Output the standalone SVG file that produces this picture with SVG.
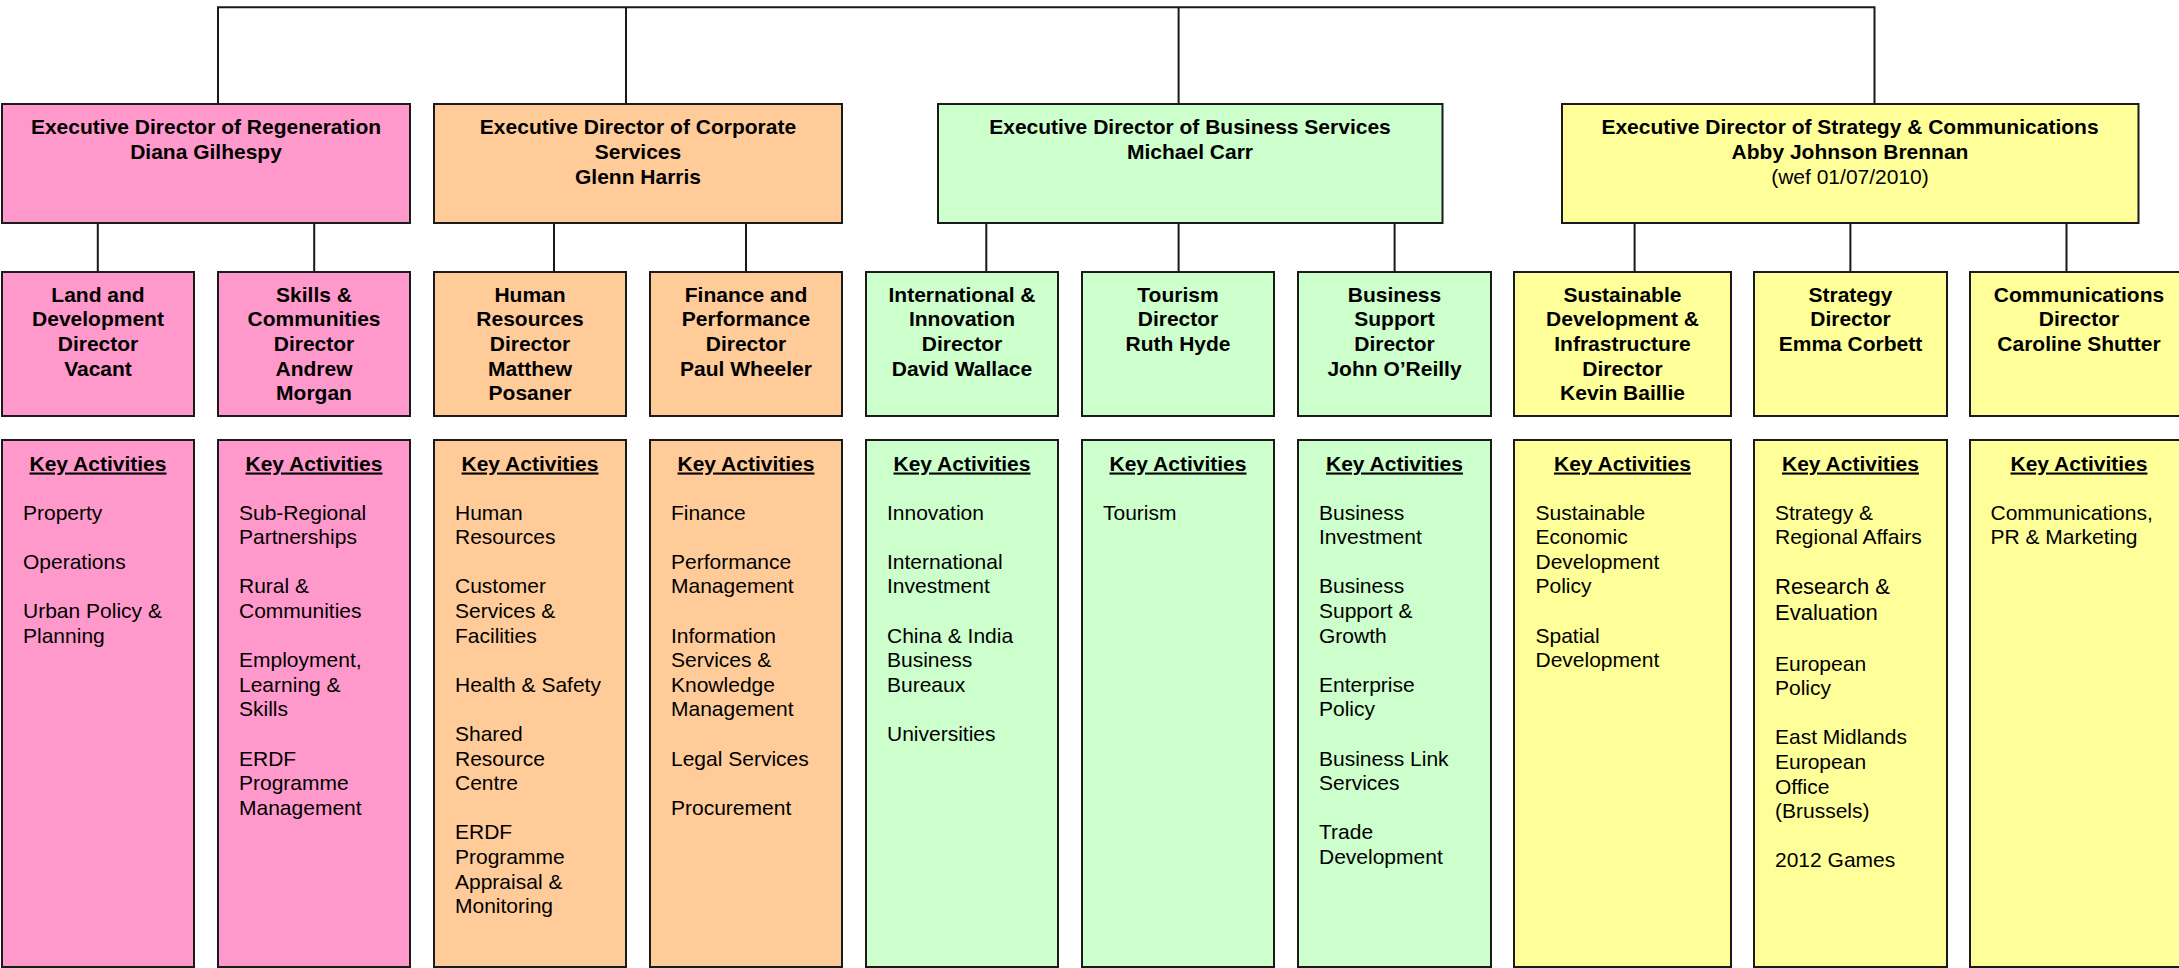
<svg xmlns="http://www.w3.org/2000/svg" width="2179" height="968" viewBox="0 0 2179 968">
<style>
.box{stroke:#1a1a1a;stroke-width:2}
.pink{fill:#FF99CC}
.orange{fill:#FFCC99}
.green{fill:#CCFFCC}
.yellow{fill:#FFFF99}
.conn{fill:none;stroke:#1a1a1a;stroke-width:2}
text{font-family:"Liberation Sans",Arial,sans-serif;font-size:21px;fill:#000}
.b{font-weight:bold;text-anchor:middle}
.r{text-anchor:middle}
.ka{font-weight:bold;text-anchor:middle;text-decoration:underline}
.act{text-anchor:start}
</style>
<rect width="2179" height="968" fill="#ffffff"/>
<g id="connectors">
<path class="conn" d="M218,104 V7.3 H1874.5 V104"/>
<path class="conn" d="M626,104 V7.3"/>
<path class="conn" d="M1178.6,104 V7.3"/>
<path class="conn" d="M97.8,223 V272 M314.2,223 V272"/>
<path class="conn" d="M554,223 V272 M746,223 V272"/>
<path class="conn" d="M986.3,223 V272 M1178.6,223 V272 M1394.6,223 V272"/>
<path class="conn" d="M1634.6,223 V272 M1850.4,223 V272 M2066.5,223 V272"/>
</g>
<g id="exec-regeneration">
<rect class="box pink" x="2" y="104" width="408" height="119"/>
<text class="b" x="206" y="134.3">Executive Director of Regeneration</text>
<text class="b" x="206" y="158.9">Diana Gilhespy</text>
</g>
<g id="exec-corporate">
<rect class="box orange" x="434" y="104" width="408" height="119"/>
<text class="b" x="638" y="134.3">Executive Director of Corporate</text>
<text class="b" x="638" y="158.9">Services</text>
<text class="b" x="638" y="183.5">Glenn Harris</text>
</g>
<g id="exec-business">
<rect class="box green" x="938" y="104" width="504.5" height="119"/>
<text class="b" x="1190" y="134.3">Executive Director of Business Services</text>
<text class="b" x="1190" y="158.9">Michael Carr</text>
</g>
<g id="exec-strategy">
<rect class="box yellow" x="1562" y="104" width="576.5" height="119"/>
<text class="b" x="1850" y="134.3">Executive Director of Strategy &amp; Communications</text>
<text class="b" x="1850" y="158.9">Abby Johnson Brennan</text>
<text class="r" x="1850" y="183.5">(wef 01/07/2010)</text>
</g>
<g id="dir-land">
<rect class="box pink" x="2" y="272" width="192" height="144"/>
<text class="b" x="98" y="301.7">Land and</text>
<text class="b" x="98" y="326.3">Development</text>
<text class="b" x="98" y="350.9">Director</text>
<text class="b" x="98" y="375.5">Vacant</text>
</g>
<g id="dir-skills">
<rect class="box pink" x="218" y="272" width="192" height="144"/>
<text class="b" x="314" y="301.7">Skills &amp;</text>
<text class="b" x="314" y="326.3">Communities</text>
<text class="b" x="314" y="350.9">Director</text>
<text class="b" x="314" y="375.5">Andrew</text>
<text class="b" x="314" y="400.1">Morgan</text>
</g>
<g id="dir-hr">
<rect class="box orange" x="434" y="272" width="192" height="144"/>
<text class="b" x="530" y="301.7">Human</text>
<text class="b" x="530" y="326.3">Resources</text>
<text class="b" x="530" y="350.9">Director</text>
<text class="b" x="530" y="375.5">Matthew</text>
<text class="b" x="530" y="400.1">Posaner</text>
</g>
<g id="dir-finance">
<rect class="box orange" x="650" y="272" width="192" height="144"/>
<text class="b" x="746" y="301.7">Finance and</text>
<text class="b" x="746" y="326.3">Performance</text>
<text class="b" x="746" y="350.9">Director</text>
<text class="b" x="746" y="375.5">Paul Wheeler</text>
</g>
<g id="dir-international">
<rect class="box green" x="866" y="272" width="192" height="144"/>
<text class="b" x="962" y="301.7">International &amp;</text>
<text class="b" x="962" y="326.3">Innovation</text>
<text class="b" x="962" y="350.9">Director</text>
<text class="b" x="962" y="375.5">David Wallace</text>
</g>
<g id="dir-tourism">
<rect class="box green" x="1082" y="272" width="192" height="144"/>
<text class="b" x="1178" y="301.7">Tourism</text>
<text class="b" x="1178" y="326.3">Director</text>
<text class="b" x="1178" y="350.9">Ruth Hyde</text>
</g>
<g id="dir-business-support">
<rect class="box green" x="1298" y="272" width="193" height="144"/>
<text class="b" x="1394.5" y="301.7">Business</text>
<text class="b" x="1394.5" y="326.3">Support</text>
<text class="b" x="1394.5" y="350.9">Director</text>
<text class="b" x="1394.5" y="375.5">John O’Reilly</text>
</g>
<g id="dir-sustainable">
<rect class="box yellow" x="1514" y="272" width="217" height="144"/>
<text class="b" x="1622.5" y="301.7">Sustainable</text>
<text class="b" x="1622.5" y="326.3">Development &amp;</text>
<text class="b" x="1622.5" y="350.9">Infrastructure</text>
<text class="b" x="1622.5" y="375.5">Director</text>
<text class="b" x="1622.5" y="400.1">Kevin Baillie</text>
</g>
<g id="dir-strategy">
<rect class="box yellow" x="1754" y="272" width="193" height="144"/>
<text class="b" x="1850.5" y="301.7">Strategy</text>
<text class="b" x="1850.5" y="326.3">Director</text>
<text class="b" x="1850.5" y="350.9">Emma Corbett</text>
</g>
<g id="dir-communications">
<rect class="box yellow" x="1970" y="272" width="218" height="144"/>
<text class="b" x="2079" y="301.7">Communications</text>
<text class="b" x="2079" y="326.3">Director</text>
<text class="b" x="2079" y="350.9">Caroline Shutter</text>
</g>
<g id="act-land">
<rect class="box pink" x="2" y="440" width="192" height="527"/>
<text class="ka" x="98" y="470.5">Key Activities</text>
<text class="act" x="23" y="519.5">Property</text>
<text class="act" x="23" y="568.7">Operations</text>
<text class="act" x="23" y="617.9">Urban Policy &amp;</text>
<text class="act" x="23" y="642.5">Planning</text>
</g>
<g id="act-skills">
<rect class="box pink" x="218" y="440" width="192" height="527"/>
<text class="ka" x="314" y="470.5">Key Activities</text>
<text class="act" x="239" y="519.5">Sub-Regional</text>
<text class="act" x="239" y="544.1">Partnerships</text>
<text class="act" x="239" y="593.3">Rural &amp;</text>
<text class="act" x="239" y="617.9">Communities</text>
<text class="act" x="239" y="667.1">Employment,</text>
<text class="act" x="239" y="691.7">Learning &amp;</text>
<text class="act" x="239" y="716.3">Skills</text>
<text class="act" x="239" y="765.5">ERDF</text>
<text class="act" x="239" y="790.1">Programme</text>
<text class="act" x="239" y="814.7">Management</text>
</g>
<g id="act-hr">
<rect class="box orange" x="434" y="440" width="192" height="527"/>
<text class="ka" x="530" y="470.5">Key Activities</text>
<text class="act" x="455" y="519.5">Human</text>
<text class="act" x="455" y="544.1">Resources</text>
<text class="act" x="455" y="593.3">Customer</text>
<text class="act" x="455" y="617.9">Services &amp;</text>
<text class="act" x="455" y="642.5">Facilities</text>
<text class="act" x="455" y="691.7">Health &amp; Safety</text>
<text class="act" x="455" y="740.9">Shared</text>
<text class="act" x="455" y="765.5">Resource</text>
<text class="act" x="455" y="790.1">Centre</text>
<text class="act" x="455" y="839.3">ERDF</text>
<text class="act" x="455" y="863.9">Programme</text>
<text class="act" x="455" y="888.5">Appraisal &amp;</text>
<text class="act" x="455" y="913.1">Monitoring</text>
</g>
<g id="act-finance">
<rect class="box orange" x="650" y="440" width="192" height="527"/>
<text class="ka" x="746" y="470.5">Key Activities</text>
<text class="act" x="671" y="519.5">Finance</text>
<text class="act" x="671" y="568.7">Performance</text>
<text class="act" x="671" y="593.3">Management</text>
<text class="act" x="671" y="642.5">Information</text>
<text class="act" x="671" y="667.1">Services &amp;</text>
<text class="act" x="671" y="691.7">Knowledge</text>
<text class="act" x="671" y="716.3">Management</text>
<text class="act" x="671" y="765.5">Legal Services</text>
<text class="act" x="671" y="814.7">Procurement</text>
</g>
<g id="act-international">
<rect class="box green" x="866" y="440" width="192" height="527"/>
<text class="ka" x="962" y="470.5">Key Activities</text>
<text class="act" x="887" y="519.5">Innovation</text>
<text class="act" x="887" y="568.7">International</text>
<text class="act" x="887" y="593.3">Investment</text>
<text class="act" x="887" y="642.5">China &amp; India</text>
<text class="act" x="887" y="667.1">Business</text>
<text class="act" x="887" y="691.7">Bureaux</text>
<text class="act" x="887" y="740.9">Universities</text>
</g>
<g id="act-tourism">
<rect class="box green" x="1082" y="440" width="192" height="527"/>
<text class="ka" x="1178" y="470.5">Key Activities</text>
<text class="act" x="1103" y="519.5">Tourism</text>
</g>
<g id="act-business-support">
<rect class="box green" x="1298" y="440" width="193" height="527"/>
<text class="ka" x="1394.5" y="470.5">Key Activities</text>
<text class="act" x="1319" y="519.5">Business</text>
<text class="act" x="1319" y="544.1">Investment</text>
<text class="act" x="1319" y="593.3">Business</text>
<text class="act" x="1319" y="617.9">Support &amp;</text>
<text class="act" x="1319" y="642.5">Growth</text>
<text class="act" x="1319" y="691.7">Enterprise</text>
<text class="act" x="1319" y="716.3">Policy</text>
<text class="act" x="1319" y="765.5">Business Link</text>
<text class="act" x="1319" y="790.1">Services</text>
<text class="act" x="1319" y="839.3">Trade</text>
<text class="act" x="1319" y="863.9">Development</text>
</g>
<g id="act-sustainable">
<rect class="box yellow" x="1514" y="440" width="217" height="527"/>
<text class="ka" x="1622.5" y="470.5">Key Activities</text>
<text class="act" x="1535.5" y="519.5">Sustainable</text>
<text class="act" x="1535.5" y="544.1">Economic</text>
<text class="act" x="1535.5" y="568.7">Development</text>
<text class="act" x="1535.5" y="593.3">Policy</text>
<text class="act" x="1535.5" y="642.5">Spatial</text>
<text class="act" x="1535.5" y="667.1">Development</text>
</g>
<g id="act-strategy">
<rect class="box yellow" x="1754" y="440" width="193" height="527"/>
<text class="ka" x="1850.5" y="470.5">Key Activities</text>
<text class="act" x="1775" y="519.5">Strategy &amp;</text>
<text class="act" x="1775" y="544.1">Regional Affairs</text>
<text class="act" x="1775" y="594.3" style="font-size:22px">Research &amp;</text>
<text class="act" x="1775" y="619.7" style="font-size:22px">Evaluation</text>
<text class="act" x="1775" y="670.5">European</text>
<text class="act" x="1775" y="695.1">Policy</text>
<text class="act" x="1775" y="744.3">East Midlands</text>
<text class="act" x="1775" y="768.9">European</text>
<text class="act" x="1775" y="793.5">Office</text>
<text class="act" x="1775" y="818.1">(Brussels)</text>
<text class="act" x="1775" y="867.3">2012 Games</text>
</g>
<g id="act-communications">
<rect class="box yellow" x="1970" y="440" width="218" height="527"/>
<text class="ka" x="2079" y="470.5">Key Activities</text>
<text class="act" x="1990.5" y="519.5">Communications,</text>
<text class="act" x="1990.5" y="544.1">PR &amp; Marketing</text>
</g>
</svg>
